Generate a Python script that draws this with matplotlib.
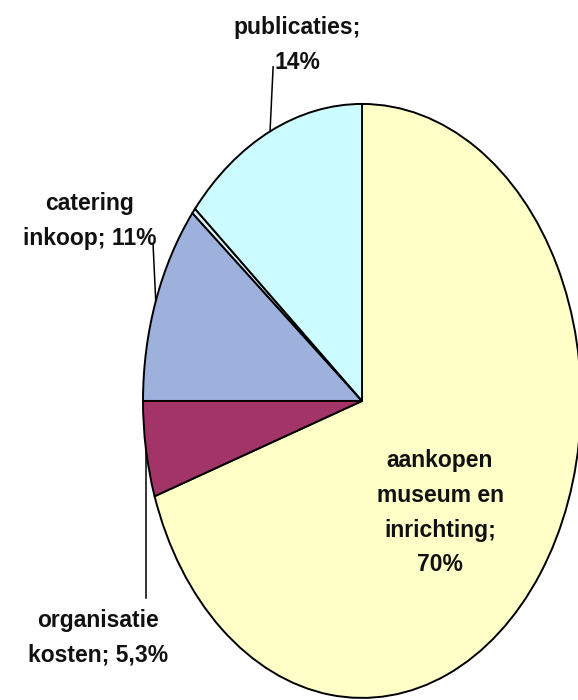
import numpy as np
import matplotlib.pyplot as plt

# slice data, clockwise from the top
labels = ["aankopen\nmuseum en\ninrichting;\n70%", "organisatie\nkosten; 5,3%",
          "catering\ninkoop; 11%", "", "publicaties;\n14%"]
values = [69.8, 5.2, 10.9, 0.3, 13.8]
colors = ["#FFFFC8", "#A33468", "#9DB1DC", "#DDF4FA", "#CCFCFF"]

plt.rcParams["font.family"] = ["Liberation Sans", "DejaVu Sans"]

fig = plt.figure(figsize=(5.78, 7.0), dpi=100)
ax = fig.add_axes([0, 0, 1, 1])
wedges, _ = ax.pie(values, colors=colors, startangle=90, counterclock=False,
                   radius=1, center=(0, 0),
                   wedgeprops=dict(edgecolor="black", linewidth=1.4))
ax.set_aspect("auto")
ax.set_xlim(-1.653, 0.986)
ax.set_ylim(-1.007, 1.350)
ax.axis("off")


def mid_point(w):
    a = np.deg2rad((w.theta1 + w.theta2) / 2)
    return np.cos(a), np.sin(a)


txt = dict(fontsize=16.5, fontweight="bold", ha="center", va="center",
           linespacing=1.65, color="#111111")

# aankopen, inside the slice
ax.text(0.356, -0.377, labels[0], **txt)

# organisatie kosten, leader going down
x0, y0 = mid_point(wedges[1])
ax.plot([x0, x0], [y0, -0.663], color="black", lw=1.1)
ax.text(-1.205, -0.798, labels[1], **txt)

# catering
x0, y0 = mid_point(wedges[2])
ax.plot([x0, -0.954], [y0, 0.525], color="black", lw=1.1)
ax.text(-1.242, 0.606, labels[2], **txt)

# publicaties
x0, y0 = mid_point(wedges[4])
ax.plot([x0, -0.406], [y0, 1.125], color="black", lw=1.1)
ax.text(-0.297, 1.199, labels[4], **txt)

fig.savefig("out.png", dpi=100)
